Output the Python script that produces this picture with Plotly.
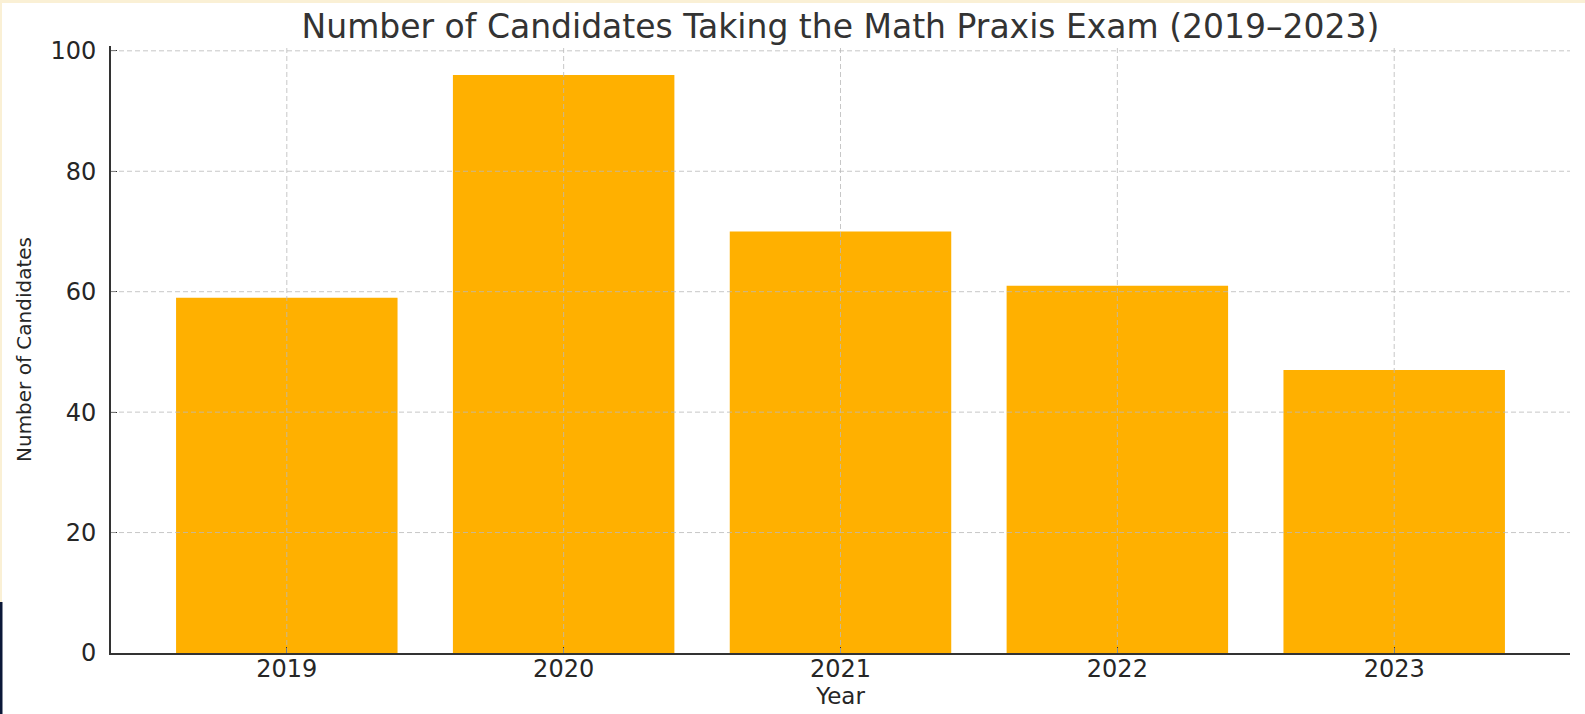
import plotly.graph_objects as go

years = ["2019", "2020", "2021", "2022", "2023"]
candidates = [59, 96, 70, 61, 47]
y_ticks = [0, 20, 40, 60, 80, 100]

W, H = 1585, 714
L, R, T, B = 111, 15, 46, 61
pw, ph = W - L - R, H - T - B

def px_x(p):
    return (p - L) / pw

def px_y(p):
    return (H - B - p) / ph

fig = go.Figure()
fig.add_trace(go.Bar(
    x=years, y=candidates, width=0.8,
    marker=dict(color="#FFB000", line=dict(width=0)),
    hoverinfo="x+y",
))

grid_style = dict(color="rgba(185,185,185,0.8)", width=1, dash="5px,3px")
shapes = []
# grid lines drawn above bars (as in the reference)
for v in y_ticks[1:]:
    shapes.append(dict(type="line", xref="paper", yref="y", x0=0, x1=1, y0=v, y1=v,
                       line=grid_style, layer="above"))
for i, yr in enumerate(years):
    shapes.append(dict(type="line", xref="x", yref="paper", x0=i, x1=i, y0=0, y1=1,
                       line=grid_style, layer="above"))
# image frame: cream border top/left, dark strip bottom-left
shapes.append(dict(type="rect", xref="paper", yref="paper", x0=px_x(0), x1=px_x(W), y0=px_y(3), y1=px_y(0),
                   fillcolor="#FAF0D5", line=dict(width=0), layer="above"))
shapes.append(dict(type="rect", xref="paper", yref="paper", x0=px_x(0), x1=px_x(2), y0=px_y(602), y1=px_y(0),
                   fillcolor="#FAF0D5", line=dict(width=0), layer="above"))
shapes.append(dict(type="rect", xref="paper", yref="paper", x0=px_x(0), x1=px_x(2.5), y0=px_y(H), y1=px_y(602),
                   fillcolor="#0B1838", line=dict(width=0), layer="above"))

fig.update_layout(
    width=W, height=H,
    margin=dict(l=L, r=R, t=T, b=B, pad=0, autoexpand=False),
    paper_bgcolor="white", plot_bgcolor="white",
    font=dict(family="DejaVu Sans", color="#262626"),
    title=dict(text="Number of Candidates Taking the Math Praxis Exam (2019–2023)",
               x=0.5, xref="paper", xanchor="center",
               y=1 - 26 / H, yref="container", yanchor="middle",
               font=dict(family="DejaVu Sans", size=33, color="#333333")),
    showlegend=False,
    shapes=shapes,
)
fig.update_xaxes(
    type="category", range=[-0.635, 4.635], automargin=False,
    showgrid=False, showline=True, linecolor="#333333", linewidth=1.6,
    ticks="inside", ticklen=6, tickwidth=1.2, tickcolor="#333333",
    tickfont=dict(size=24, color="#262626"), ticklabelstandoff=-7,
    title=dict(text="Year", font=dict(size=23, color="#262626"), standoff=0),
    zeroline=False,
)
fig.update_yaxes(
    range=[0, 100.8], tickvals=y_ticks, automargin=False,
    showgrid=False, showline=True, linecolor="#333333", linewidth=1.6,
    ticks="inside", ticklen=6, tickwidth=1.2, tickcolor="#333333",
    tickfont=dict(size=24, color="#262626"), ticklabelstandoff=8,
    title=dict(text="Number of Candidates", font=dict(size=20, color="#262626"), standoff=14),
    zeroline=False,
)

fig.write_html("out.html")
